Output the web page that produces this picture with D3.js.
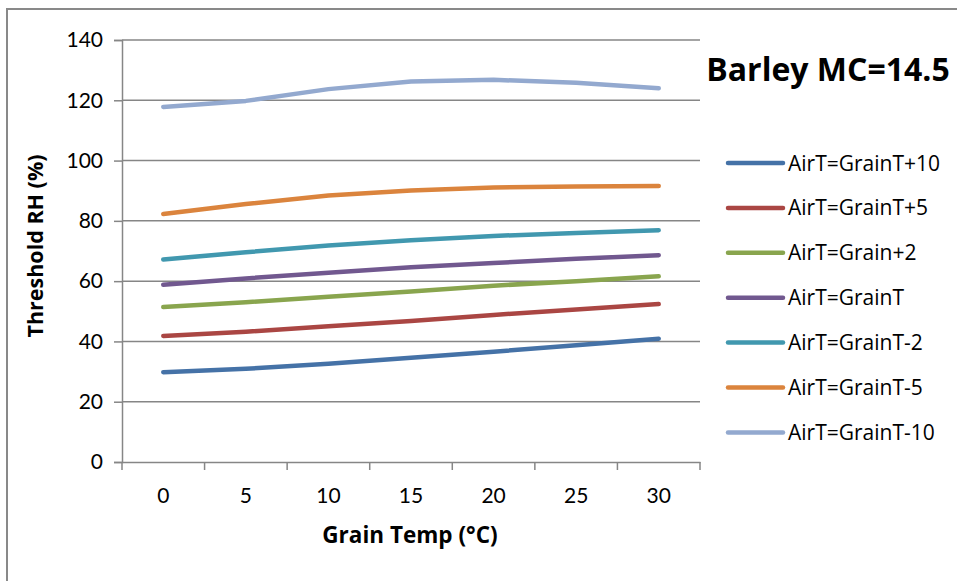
<!DOCTYPE html>
<html>
<head>
<meta charset="utf-8">
<script src="https://cdn.jsdelivr.net/npm/d3@7"></script>
<style>
  body { margin: 0; background: #fff; }
  text { font-family: "Open Sans", Lato, sans-serif; fill: #000; }
</style>
</head>
<body>
<div id="chart"></div>
<script>
// data
var grainTemps = [0, 5, 10, 15, 20, 25, 30];
var yTicks = [0, 20, 40, 60, 80, 100, 120, 140];
var seriesNames = ["AirT=GrainT+10", "AirT=GrainT+5", "AirT=Grain+2", "AirT=GrainT",
                   "AirT=GrainT-2", "AirT=GrainT-5", "AirT=GrainT-10"];
var seriesColors = ["#4572a7", "#aa4643", "#89a54e", "#71588f", "#4198af", "#db843d", "#93a9cf"];
var plus10  = [29.8, 30.9, 32.6, 34.6, 36.6, 38.7, 40.9];
var plus5   = [41.8, 43.2, 45.0, 46.8, 48.8, 50.6, 52.4];
var plus2   = [51.4, 53.0, 54.8, 56.6, 58.5, 60.0, 61.6];
var same    = [58.8, 60.9, 62.8, 64.6, 66.0, 67.4, 68.6];
var minus2  = [67.2, 69.6, 71.8, 73.6, 75.0, 76.0, 76.9];
var minus5  = [82.3, 85.6, 88.4, 90.1, 91.1, 91.4, 91.6];
var minus10 = [117.8, 119.8, 123.7, 126.2, 126.8, 125.8, 124.0];
var allSeries = [plus10, plus5, plus2, same, minus2, minus5, minus10];

var svgWidth = 957, svgHeight = 581;
var margin = { top: 40, left: 122, right: 257, bottom: 119 };
var width = svgWidth - margin.left - margin.right;
var height = svgHeight - margin.top - margin.bottom;

var svg = d3.select("#chart").append("svg")
  .attr("width", svgWidth)
  .attr("height", svgHeight);

// outer chart frame (runs off the right and bottom edges)
svg.append("rect")
  .attr("x", 7).attr("y", 9)
  .attr("width", 980).attr("height", 620)
  .attr("fill", "none")
  .attr("stroke", "#898989")
  .attr("stroke-width", 2);

var chartGroup = svg.append("g")
  .attr("transform", `translate(${margin.left}, ${margin.top})`);

var xScale = d3.scaleBand().domain(grainTemps).range([0, width]);
var yScale = d3.scaleLinear().domain([0, 140]).range([height, 0]);

// gridlines
chartGroup.append("g")
  .selectAll("line")
  .data(yTicks.slice(1))
  .enter()
  .append("line")
  .attr("x1", 0).attr("x2", width)
  .attr("y1", d => yScale(d)).attr("y2", d => yScale(d))
  .attr("stroke", "#868686")
  .attr("stroke-width", 1.5);

// y axis
var leftAxis = d3.axisLeft(yScale).tickValues(yTicks).tickSize(8).tickPadding(11);
var yAxis = chartGroup.append("g").call(leftAxis);

// x axis, ticks on band edges like Excel
var bottomAxis = d3.axisBottom(xScale).tickSize(0).tickPadding(26);
var xAxis = chartGroup.append("g")
  .attr("transform", `translate(0, ${height})`)
  .call(bottomAxis);
xAxis.selectAll(".xedge")
  .data(d3.range(grainTemps.length + 1))
  .enter()
  .append("line")
  .attr("class", "xedge")
  .attr("x1", i => i * xScale.step()).attr("x2", i => i * xScale.step())
  .attr("y1", 0).attr("y2", 8)
  .attr("stroke", "#868686")
  .attr("stroke-width", 1.5);

[yAxis, xAxis].forEach(function(ax) {
  ax.select(".domain").attr("stroke", "#868686").attr("stroke-width", 1.5);
  ax.selectAll(".tick line").attr("stroke", "#868686").attr("stroke-width", 1.5);
  ax.selectAll(".tick text").attr("font-size", 21).attr("fill", "#000")
    .style("font-family", "Lato, sans-serif");
});

// series lines
var line = d3.line()
  .x((d, i) => xScale(grainTemps[i]) + xScale.bandwidth() / 2)
  .y(d => yScale(d));

chartGroup.selectAll(".series")
  .data(allSeries)
  .enter()
  .append("path")
  .attr("class", "series")
  .attr("d", line)
  .attr("fill", "none")
  .attr("stroke", (d, i) => seriesColors[i])
  .attr("stroke-width", 4.5)
  .attr("stroke-linecap", "round")
  .attr("stroke-linejoin", "round");

// axis titles
svg.append("text")
  .attr("x", 410)
  .attr("y", 543)
  .attr("text-anchor", "middle")
  .attr("font-size", 22.5)
  .attr("font-weight", "bold")
  .text("Grain Temp (°C)");

svg.append("text")
  .attr("transform", "translate(43, 246) rotate(-90)")
  .attr("text-anchor", "middle")
  .attr("font-size", 21.5)
  .attr("font-weight", "bold")
  .text("Threshold RH (%)");

// title
svg.append("text")
  .attr("x", 828)
  .attr("y", 81)
  .attr("text-anchor", "middle")
  .attr("font-size", 32)
  .attr("font-weight", "bold")
  .text("Barley MC=14.5");

// legend
var legend = svg.append("g").attr("transform", "translate(728, 163)");
var rows = legend.selectAll(".row")
  .data(seriesNames)
  .enter()
  .append("g")
  .attr("class", "row")
  .attr("transform", (d, i) => `translate(0, ${i * 44.9})`);
rows.append("line")
  .attr("x1", 0).attr("x2", 55)
  .attr("stroke", (d, i) => seriesColors[i])
  .attr("stroke-width", 4.5)
  .attr("stroke-linecap", "round");
rows.append("text")
  .attr("x", 60)
  .attr("y", 7.5)
  .attr("font-size", 21)
  .text(d => d);
</script>
</body>
</html>
